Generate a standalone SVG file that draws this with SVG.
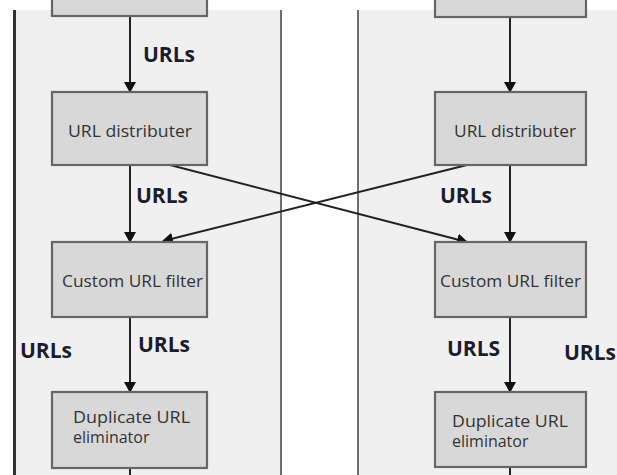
<svg xmlns="http://www.w3.org/2000/svg" width="617" height="475" viewBox="0 0 617 475">
<defs>
<style>
.panel{fill:#f0f0f0}
.border{stroke:#6e6e6e;stroke-width:2;fill:none}
.box{fill:#d8d8d8;stroke:#666;stroke-width:2.2}
.bt{font-family:"Open Sans","Noto Sans",sans-serif;font-size:16px;fill:#333}
.lbl{font-family:"Open Sans","Noto Sans",sans-serif;font-size:21px;font-weight:bold;fill:#1c1c2a}
.conn{stroke:#222;stroke-width:2;fill:none}
.arr{marker-end:url(#ah)}
</style>
<marker id="ah" markerWidth="12" markerHeight="12" refX="10" refY="6" orient="auto" markerUnits="userSpaceOnUse">
<path d="M0,0 L11,6 L0,12 Z" fill="#111"/>
</marker>
</defs>
<rect width="617" height="475" fill="#ffffff"/>
<g id="panels">
<rect class="panel" x="14" y="10" width="267" height="465"/>
<rect class="panel" x="358" y="10" width="259" height="465"/>
<line x1="14.5" y1="10" x2="14.5" y2="475" stroke="#333" stroke-width="3"/>
<line class="border" x1="281" y1="10" x2="281" y2="475"/>
<line class="border" x1="358" y1="10" x2="358" y2="475"/>
</g>
<g id="connectors">
<line class="conn arr" x1="130" y1="16" x2="130" y2="92"/>
<line class="conn arr" x1="130" y1="165" x2="130" y2="242"/>
<line class="conn arr" x1="130" y1="317" x2="130" y2="392"/>
<line class="conn" x1="130" y1="468" x2="130" y2="475"/>
<line class="conn arr" x1="510" y1="17" x2="510" y2="92"/>
<line class="conn arr" x1="510" y1="165" x2="510" y2="242"/>
<line class="conn arr" x1="510" y1="317" x2="510" y2="392"/>
<line class="conn" x1="510" y1="467" x2="510" y2="475"/>
<line class="conn arr" x1="170" y1="165" x2="467" y2="242"/>
<line class="conn arr" x1="467" y1="165" x2="163" y2="241"/>
</g>
<g id="labels">
<text class="lbl" x="143" y="62">URLs</text>
<text class="lbl" x="136" y="203">URLs</text>
<text class="lbl" x="138" y="352">URLs</text>
<text class="lbl" x="20" y="358">URLs</text>
<text class="lbl" x="440" y="203">URLs</text>
<text class="lbl" x="447" y="356">URLS</text>
<text class="lbl" x="564" y="360">URLs</text>
</g>
<g id="top-left"><rect class="box" x="52" y="-10" width="155" height="26"/></g>
<g id="top-right"><rect class="box" x="435" y="-10" width="151" height="27"/></g>
<g id="dist-left"><rect class="box" x="52" y="92" width="155" height="73"/><text class="bt" x="68" y="137" textLength="124" lengthAdjust="spacingAndGlyphs">URL distributer</text></g>
<g id="dist-right"><rect class="box" x="435" y="92" width="151" height="73"/><text class="bt" x="454" y="137" textLength="122" lengthAdjust="spacingAndGlyphs">URL distributer</text></g>
<g id="filter-left"><rect class="box" x="52" y="242" width="155" height="75"/><text class="bt" x="62" y="287" textLength="141" lengthAdjust="spacingAndGlyphs">Custom URL filter</text></g>
<g id="filter-right"><rect class="box" x="435" y="242" width="151" height="75"/><text class="bt" x="440" y="287" textLength="141" lengthAdjust="spacingAndGlyphs">Custom URL filter</text></g>
<g id="dup-left"><rect class="box" x="52" y="392" width="155" height="76"/><text class="bt" x="73" y="423" textLength="117" lengthAdjust="spacingAndGlyphs">Duplicate URL</text><text class="bt" x="73" y="443">eliminator</text></g>
<g id="dup-right"><rect class="box" x="435" y="392" width="151" height="75"/><text class="bt" x="452" y="427" textLength="116" lengthAdjust="spacingAndGlyphs">Duplicate URL</text><text class="bt" x="452" y="447">eliminator</text></g>
</svg>
